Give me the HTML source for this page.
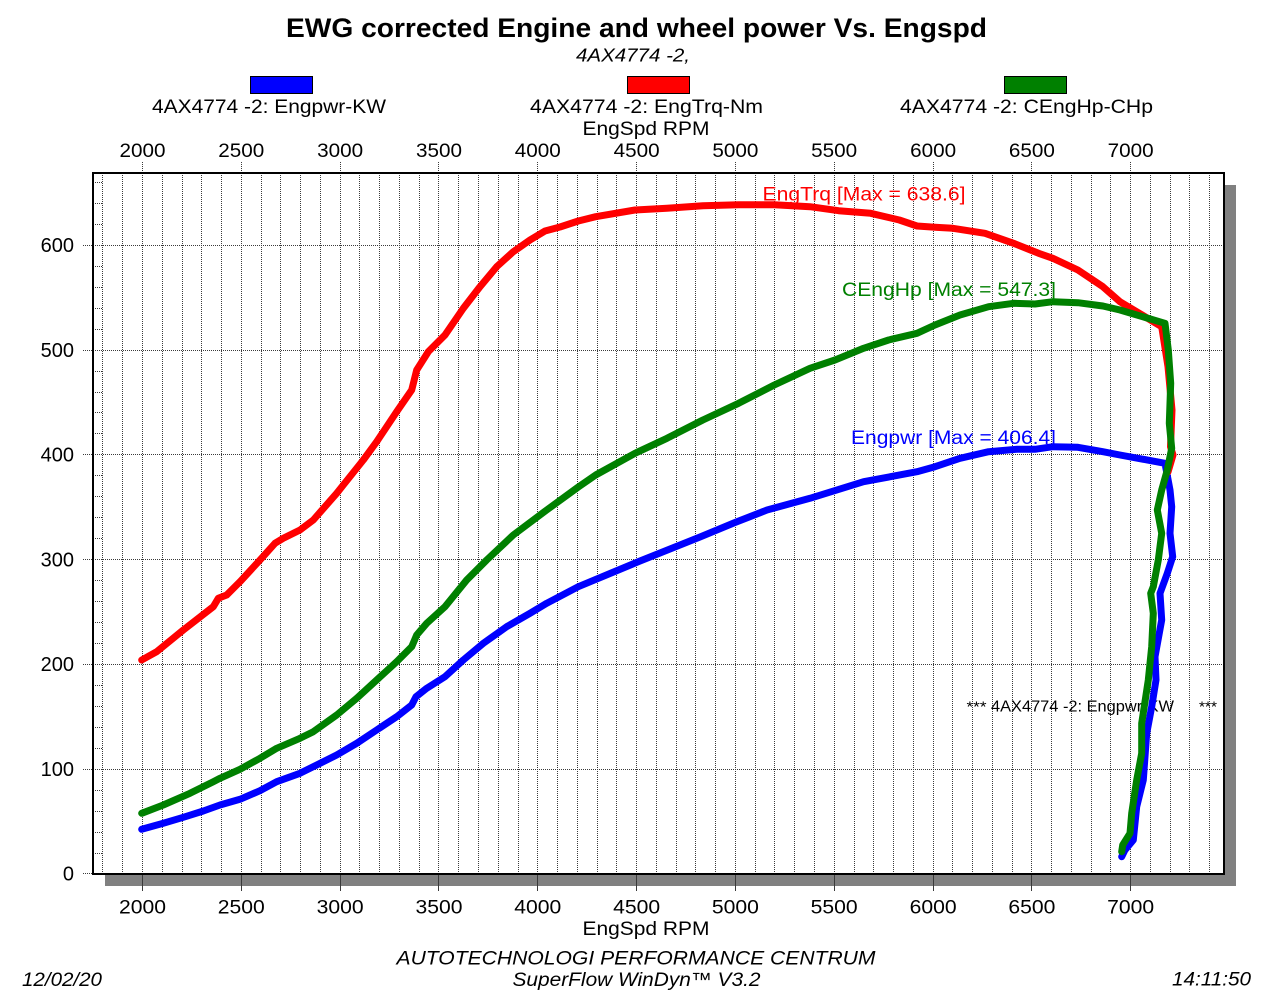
<!DOCTYPE html>
<html><head><meta charset="utf-8"><style>
html,body{margin:0;padding:0;background:#fff;}
svg{display:block;}
text{font-family:"Liberation Sans",Arial,sans-serif;}
</style></head><body>
<svg width="1271" height="1001" viewBox="0 0 1271 1001" xmlns="http://www.w3.org/2000/svg">
<rect x="0" y="0" width="1271" height="1001" fill="#fff"/>
<!-- title -->
<text x="636.5" y="37" font-size="26.5" font-weight="bold" text-anchor="middle" textLength="701" lengthAdjust="spacingAndGlyphs">EWG corrected Engine and wheel power Vs. Engspd</text>
<text x="633" y="61.5" font-size="18" font-style="italic" text-anchor="middle" textLength="114" lengthAdjust="spacingAndGlyphs">4AX4774 -2,</text>
<!-- legend -->
<rect x="250.5" y="76.5" width="62" height="17" fill="#0000ff" stroke="#000" stroke-width="1"/>
<rect x="627.5" y="76.5" width="62" height="17" fill="#ff0000" stroke="#000" stroke-width="1"/>
<rect x="1004.5" y="76.5" width="62" height="17" fill="#008000" stroke="#000" stroke-width="1"/>
<text x="269" y="113" font-size="19" text-anchor="middle" textLength="234" lengthAdjust="spacingAndGlyphs">4AX4774 -2: Engpwr-KW</text>
<text x="646.5" y="113" font-size="19" text-anchor="middle" textLength="233" lengthAdjust="spacingAndGlyphs">4AX4774 -2: EngTrq-Nm</text>
<text x="1026.5" y="113" font-size="19" text-anchor="middle" textLength="253" lengthAdjust="spacingAndGlyphs">4AX4774 -2: CEngHp-CHp</text>
<text x="646" y="135" font-size="19" text-anchor="middle" textLength="127" lengthAdjust="spacingAndGlyphs">EngSpd RPM</text>
<!-- top tick labels -->
<g font-size="19" text-anchor="middle">
<text x="142.5" y="157" textLength="46" lengthAdjust="spacingAndGlyphs">2000</text>
<text x="241.3" y="157" textLength="46" lengthAdjust="spacingAndGlyphs">2500</text>
<text x="340.1" y="157" textLength="46" lengthAdjust="spacingAndGlyphs">3000</text>
<text x="439" y="157" textLength="46" lengthAdjust="spacingAndGlyphs">3500</text>
<text x="537.8" y="157" textLength="46" lengthAdjust="spacingAndGlyphs">4000</text>
<text x="636.6" y="157" textLength="46" lengthAdjust="spacingAndGlyphs">4500</text>
<text x="735.4" y="157" textLength="46" lengthAdjust="spacingAndGlyphs">5000</text>
<text x="834.2" y="157" textLength="46" lengthAdjust="spacingAndGlyphs">5500</text>
<text x="933.1" y="157" textLength="46" lengthAdjust="spacingAndGlyphs">6000</text>
<text x="1031.9" y="157" textLength="46" lengthAdjust="spacingAndGlyphs">6500</text>
<text x="1130.7" y="157" textLength="46" lengthAdjust="spacingAndGlyphs">7000</text>
</g>
<!-- bottom tick labels -->
<g font-size="19" text-anchor="middle">
<text x="142.5" y="913.5" textLength="47" lengthAdjust="spacingAndGlyphs">2000</text>
<text x="241.3" y="913.5" textLength="47" lengthAdjust="spacingAndGlyphs">2500</text>
<text x="340.1" y="913.5" textLength="47" lengthAdjust="spacingAndGlyphs">3000</text>
<text x="439" y="913.5" textLength="47" lengthAdjust="spacingAndGlyphs">3500</text>
<text x="537.8" y="913.5" textLength="47" lengthAdjust="spacingAndGlyphs">4000</text>
<text x="636.6" y="913.5" textLength="47" lengthAdjust="spacingAndGlyphs">4500</text>
<text x="735.4" y="913.5" textLength="47" lengthAdjust="spacingAndGlyphs">5000</text>
<text x="834.2" y="913.5" textLength="47" lengthAdjust="spacingAndGlyphs">5500</text>
<text x="933.1" y="913.5" textLength="47" lengthAdjust="spacingAndGlyphs">6000</text>
<text x="1031.9" y="913.5" textLength="47" lengthAdjust="spacingAndGlyphs">6500</text>
<text x="1130.7" y="913.5" textLength="47" lengthAdjust="spacingAndGlyphs">7000</text>
</g>
<text x="646" y="935" font-size="19" text-anchor="middle" textLength="127" lengthAdjust="spacingAndGlyphs">EngSpd RPM</text>
<!-- y labels -->
<g font-size="20" text-anchor="end">
<text x="74" y="252">600</text>
<text x="74" y="357">500</text>
<text x="74" y="461.5">400</text>
<text x="74" y="566.5">300</text>
<text x="74" y="671">200</text>
<text x="74" y="776">100</text>
<text x="74" y="880.5">0</text>
</g>
<!-- footer -->
<text x="636" y="964.5" font-size="19" font-style="italic" text-anchor="middle" textLength="479" lengthAdjust="spacingAndGlyphs">AUTOTECHNOLOGI PERFORMANCE CENTRUM</text>
<text x="636.5" y="986" font-size="19" font-style="italic" text-anchor="middle" textLength="248" lengthAdjust="spacingAndGlyphs">SuperFlow WinDyn™ V3.2</text>
<text x="22" y="986" font-size="19" font-style="italic" textLength="80" lengthAdjust="spacingAndGlyphs">12/02/20</text>
<text x="1172" y="985.5" font-size="19" font-style="italic" textLength="79" lengthAdjust="spacingAndGlyphs">14:11:50</text>

<!-- shadow and plot -->
<rect x="105" y="185" width="1131" height="701" fill="#808080"/>
<rect x="93" y="173" width="1131" height="701" fill="#fff"/>
<!-- vertical grid -->
<path stroke="#3a3a3a" stroke-width="1" stroke-dasharray="1 1" fill="none" d="M102.5 173V874M122.5 173V874M142.5 173V874M162.5 173V874M182.5 173V874M201.5 173V874M221.5 173V874M241.5 173V874M261.5 173V874M280.5 173V874M300.5 173V874M320.5 173V874M340.5 173V874M359.5 173V874M379.5 173V874M399.5 173V874M419.5 173V874M438.5 173V874M458.5 173V874M478.5 173V874M498.5 173V874M518.5 173V874M537.5 173V874M557.5 173V874M577.5 173V874M597.5 173V874M616.5 173V874M636.5 173V874M656.5 173V874M676.5 173V874M695.5 173V874M715.5 173V874M735.5 173V874M755.5 173V874M774.5 173V874M794.5 173V874M814.5 173V874M834.5 173V874M854.5 173V874M873.5 173V874M893.5 173V874M913.5 173V874M933.5 173V874M952.5 173V874M972.5 173V874M992.5 173V874M1012.5 173V874M1031.5 173V874M1051.5 173V874M1071.5 173V874M1091.5 173V874M1110.5 173V874M1130.5 173V874M1150.5 173V874M1170.5 173V874M1189.5 173V874M1209.5 173V874"/>
<!-- top/bottom major ticks -->
<path stroke="#3a3a3a" stroke-width="1" stroke-dasharray="1 1" fill="none" d="M142.5 162V173M241.5 162V173M340.5 162V173M438.5 162V173M537.5 162V173M636.5 162V173M735.5 162V173M834.5 162V173M933.5 162V173M1031.5 162V173M1130.5 162V173"/>
<path stroke="#3a3a3a" stroke-width="1" fill="none" d="M142.5 874V891M241.5 874V891M340.5 874V891M438.5 874V891M537.5 874V891M636.5 874V891M735.5 874V891M834.5 874V891M933.5 874V891M1031.5 874V891M1130.5 874V891"/>
<!-- horizontal grid -->
<path stroke="#3a3a3a" stroke-width="1" stroke-dasharray="1 1" fill="none" d="M83 245.5H1224M83 350.5H1224M83 454.5H1224M83 559.5H1224M83 664.5H1224M83 769.5H1224M83 873.5H93"/>
<!-- minor y ticks -->
<path stroke="#3a3a3a" stroke-width="1" stroke-dasharray="1 1" fill="none" d="M93 853.5H103M93 832.5H103M93 811.5H103M93 790.5H103M93 748.5H103M93 727.5H103M93 706.5H103M93 685.5H103M93 643.5H103M93 622.5H103M93 601.5H103M93 580.5H103M93 538.5H103M93 517.5H103M93 496.5H103M93 475.5H103M93 433.5H103M93 412.5H103M93 392.5H103M93 371.5H103M93 329.5H103M93 308.5H103M93 287.5H103M93 266.5H103M93 224.5H103M93 203.5H103M93 182.5H103"/>
<!-- border -->
<rect x="93" y="173" width="1131" height="701" fill="none" stroke="#000" stroke-width="2"/>

<!-- annotation texts -->
<text x="762.5" y="200.5" font-size="19" fill="#ff0000" textLength="203" lengthAdjust="spacingAndGlyphs">EngTrq [Max = 638.6]</text>
<text x="842" y="296" font-size="19" fill="#008000" textLength="214" lengthAdjust="spacingAndGlyphs">CEngHp [Max = 547.3]</text>
<text x="851" y="444" font-size="19" fill="#0000ff" textLength="205" lengthAdjust="spacingAndGlyphs">Engpwr [Max = 406.4]</text>
<text x="966.5" y="711.5" font-size="15" fill="#000" textLength="20" lengthAdjust="spacingAndGlyphs">***</text>
<text x="991" y="711.5" font-size="15.5" fill="#000" textLength="183" lengthAdjust="spacingAndGlyphs">4AX4774 -2: Engpwr-KW</text>
<text x="1199" y="711.5" font-size="15" fill="#000" textLength="18" lengthAdjust="spacingAndGlyphs">***</text>

<!-- curves -->
<g fill="none" stroke-width="7" stroke-linejoin="round" stroke-linecap="round">
<polyline stroke="#0000ff" points="141.7,829.3 163.3,823.3 183.3,817.3 203.3,811 220,805 240,799.3 260,790.7 276.7,781.7 300,773.3 316.7,765 336.7,755 356.7,743.3 376.7,730 396.7,716.7 411.7,705 416,696.7 426.7,688.3 445,676.7 463.3,660 483.3,643.3 506.7,626.7 530,613.3 546.7,603.3 578.3,586.7 610,573.5 640,561 670,549 700,537 735,522.5 767,510 810,498.3 863.6,481.7 917,471.7 935,466.7 960,458.3 988.6,451.7 1017,449.3 1035,449.3 1052.9,446.7 1077.9,447.3 1102.9,451.7 1120,455 1165,463.3 1170,490 1171.7,506.7 1170,533.3 1172.7,556.7 1167.3,573.3 1160,593.3 1161.7,620 1155,656.7 1156,680 1151.7,706.7 1146.7,733.3 1143.3,780 1136.7,806.7 1133.3,840 1125,850 1121.7,856.7"/>
<polyline stroke="#ff0000" points="141.7,660 156.7,651.7 183.3,630 213.3,606.7 218.3,598.3 226.7,595 240,581.7 260,560 275,543.3 283.3,538.3 300,530 313.3,520 336.7,493.3 343.3,485 363.3,460 376.7,441.7 396.7,411.7 411.7,390 416.7,370 428.3,351.7 445,335 463.3,308.3 480,286.7 496.7,266.7 513.3,251.7 530,240 545,231 560,227 578.3,221 595.7,216.7 635,210 667,208.3 702.9,205.7 738.6,204.7 774.3,204.7 810,206.7 838.6,210.7 870.7,213.3 899.3,220 917,226 935,227.3 952.9,228.3 985,233.3 1013.6,243.3 1038.6,253.3 1052.9,258.3 1077.9,270 1102.9,286.7 1120,301.7 1161.7,326.7 1168,366.7 1172,410 1170.5,446.7 1173,455 1168,472"/>
<polyline stroke="#008000" points="141.7,813.3 163.3,805 190,793.3 213.3,781.7 220,778.3 240,769.3 260,758.3 276.7,748.3 300,738.3 313.3,731.7 336.7,715 356.7,698.3 376.7,680 396.7,661.7 411.7,646.7 416.7,635 426.7,623.3 445,606.7 466.7,580 486.7,560 513.3,535 546.7,510 578.3,487 595.7,475 635,453.3 667,438.3 702.9,420 738.6,403.3 774.3,385 810,368.3 835,360 863.6,348.3 888.6,340 917,333.3 935,325 960,315 988.6,306.7 1013.6,303.3 1035,304 1052.9,301.7 1077.9,302.7 1102.9,306 1120,310 1165,323.3 1168.3,350 1170.7,383.3 1169.3,423.3 1171.7,448.3 1167.3,470 1161.7,490 1157.3,510 1161.7,533.3 1158.3,560 1153.3,586.7 1150.7,593.3 1153.3,613.3 1151.7,646.7 1148.3,680 1141.7,723.3 1141.7,753.3 1136.7,780 1131.7,813.3 1130,833.3 1122.7,845 1121.7,851.7"/>
</g>
</svg>
</body></html>
